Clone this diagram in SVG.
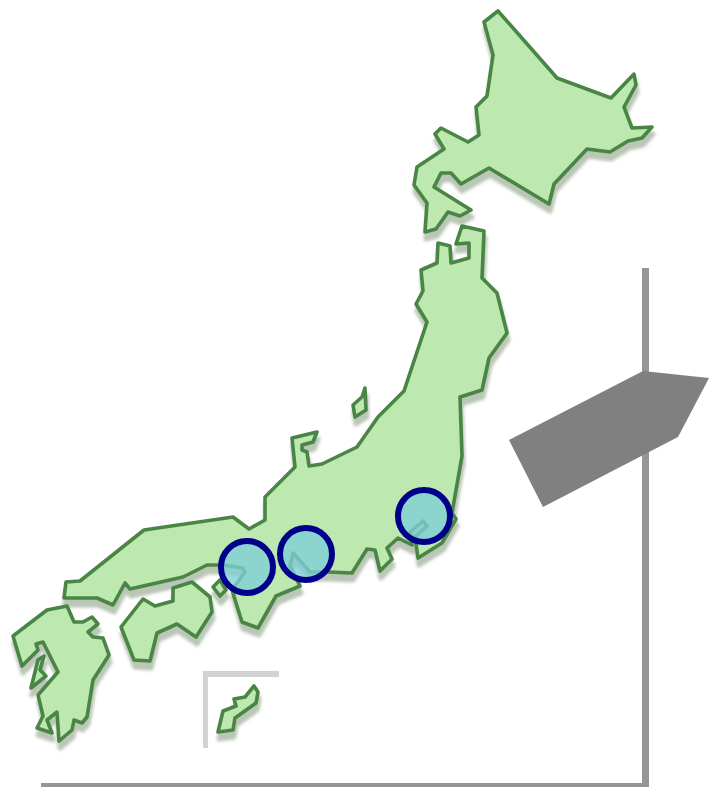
<svg xmlns="http://www.w3.org/2000/svg" width="709" height="787" viewBox="0 0 709 787">
<style>
.land{fill:#bde8b0;stroke:#4a8545;stroke-width:3.6;stroke-linejoin:round}
.bay{fill:#7dd0d6;fill-opacity:.78;stroke:#00008b;stroke-width:6}
.axis{fill:#969696}
</style>
<defs>
<filter id="soft" x="-10%" y="-10%" width="120%" height="120%"><feGaussianBlur stdDeviation="0.5"/></filter>
<filter id="shade" x="-10%" y="-10%" width="120%" height="120%"><feGaussianBlur stdDeviation="1.5"/></filter>
<g id="islands">
<path id="p1" d="M498 11L484 22L493 55L487 96L476 107L479 135L468 142L441 128L435 134L444 149L417 167L414 185L427 203L425 232L436 229L448 212L460 216L471 210L434 187L441 173L451 173L461 184L489 168L549 204L554 184L587 149L610 152L628 141L642 138L652 127L632 128L624 107L636 85L634 74L611 98L557 78Z"/>
<path id="p2" d="M462 226L484 231L482 278L497 293L507 333L489 358L482 390L460 397L462 456L452 513L456 519L442 543L418 558L415 537L427 526L423 521L410 532L412 545L398 538L387 548L392 559L380 571L375 550L367 549L352 573L328 572L310 572L293 553L290 566L300 586L276 596L258 628L242 622L232 590L245 572L243 568L223 565L207 565L183 577L130 589L125 583L113 605L97 598L64 598L66 582L80 581L144 530L233 517L249 529L265 520L265 497L295 467L292 438L317 432L313 442L302 445L302 450L307 452L309 466L322 464L357 447L378 417L404 391L427 322L416 304L423 291L421 270L437 263L438 243L450 246L451 263L469 258L469 243L456 244Z"/>
<path id="p3" d="M365 388L366 410L355 417L353 405L362 397Z"/>
<path id="p4" d="M121 627L143 599L155 606L173 601L173 588L192 582L210 597L212 612L196 637L177 624L157 633L150 661L134 660Z"/>
<path id="p5" d="M213 587L220 580L226 590L220 596Z"/>
<path id="p6" d="M13 636L47 610L67 606L74 622L83 622L92 617L98 624L88 632L93 637L103 638L109 655L93 680L87 717L82 723L74 720L72 730L59 741L57 712L47 720L52 733L37 728L43 716L38 695L58 672L43 642L36 644L38 650L22 666Z"/>
<path id="p7" d="M44 656L38 660L31 688L46 676L40 670Z"/>
<path id="p8" d="M254 686L258 692L256 703L235 718L233 730L218 732L223 711L236 706L234 699L245 697Z"/>
</g>
</defs>
<g id="connectors">
<path class="axis" d="M642 268H649V787H41V783H642Z"/>
<path d="M203 671H279V677H208V748H203Z" fill="#d2d2d2"/>
</g>
<g id="japan">
<use href="#islands" transform="translate(1 7)" fill="#bac6b6" stroke="#bac6b6" stroke-width="5" stroke-linejoin="round" filter="url(#shade)"/>
<use href="#islands" class="land" filter="url(#soft)"/>
</g>
<g id="arrow"><path d="M643 371L709 378L678 437L543 507L509 440Z" fill="#808080"/></g>
<g id="site-1"><circle class="bay" cx="247" cy="567" r="26"/></g>
<g id="site-2"><circle class="bay" cx="306" cy="554" r="26"/></g>
<g id="site-3"><circle class="bay" cx="424" cy="516" r="26"/></g>
</svg>
